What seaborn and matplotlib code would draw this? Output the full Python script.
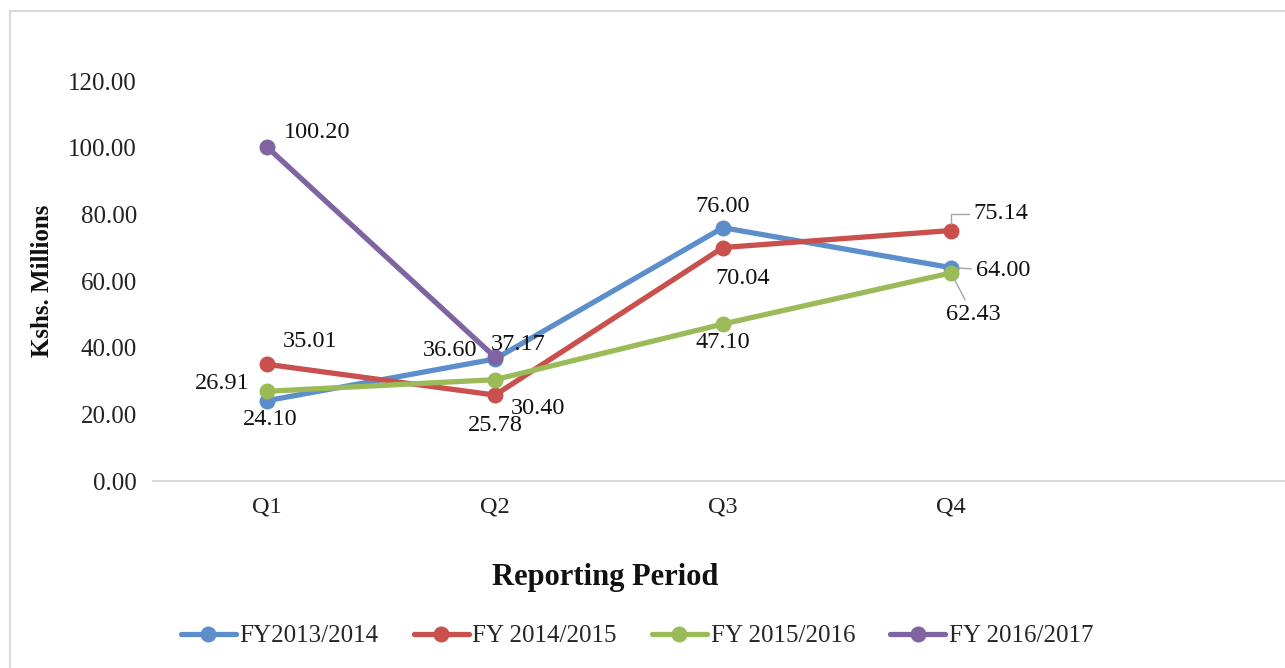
import matplotlib
matplotlib.use("Agg")
import matplotlib.pyplot as plt
import seaborn as sns
import pandas as pd
import numpy as np
from matplotlib.patches import Rectangle

quarters = ["Q1", "Q2", "Q3", "Q4"]
series_names = ["FY2013/2014", "FY 2014/2015", "FY 2015/2016", "FY 2016/2017"]
fy2013 = [24.10, 36.60, 76.00, 64.00]
fy2014 = [35.01, 25.78, 70.04, 75.14]
fy2015 = [26.91, 30.40, 47.10, 62.43]
fy2016 = [100.20, 37.17, np.nan, np.nan]
yticks = [0, 20, 40, 60, 80, 100, 120]

colors = ["#5B8ECB", "#C9504D", "#9BBB59", "#8064A2"]

rows = []
for name, vals in zip(series_names, [fy2013, fy2014, fy2015, fy2016]):
    for q, v in zip(quarters, vals):
        if not np.isnan(v):
            rows.append({"Quarter": q, "Value": v, "Series": name})
df = pd.DataFrame(rows)

sns.set_theme(style="white")
plt.rcParams["font.family"] = ["Liberation Serif", "DejaVu Serif"]

FS = 17.5
fig = plt.figure(figsize=(12.85, 6.68), dpi=100)
W, H = 1285, 668
ax = fig.add_axes([153 / W, 1 - 481 / H, 1 - 153 / W, (481 - 81) / H])

sns.lineplot(data=df, x="Quarter", y="Value", hue="Series", hue_order=series_names,
             palette=colors, marker="o", markersize=11.5, linewidth=3.8,
             markeredgewidth=0, sort=False, ax=ax, legend=True)

ax.set_xlim(-0.5, (W - 153) / 228 - 0.5)
ax.set_ylim(0, 120)
ax.set_yticks(yticks)
ax.set_yticklabels([f"{t:.2f}" for t in yticks], fontsize=18, color="#222222")
ax.set_xticks(range(len(quarters)))
ax.set_xticklabels(quarters, fontsize=FS, color="#222222")
ax.tick_params(axis="both", length=0)
ax.tick_params(axis="y", pad=11.5)
ax.tick_params(axis="x", pad=11)
for s in ["top", "right", "left"]:
    ax.spines[s].set_visible(False)
ax.spines["bottom"].set_color("#D9D9D9")
ax.spines["bottom"].set_linewidth(1.5)
ax.grid(False)

ax.set_xlabel("Reporting Period", fontsize=22, fontweight="bold", color="#111111")
ax.xaxis.set_label_coords((605 - 153) / (W - 153), (481 - 577) / 400)
ax.xaxis.label.set_va("center")
ax.set_ylabel("Kshs. Millions", fontsize=18, fontweight="bold", color="#111111")
ax.yaxis.set_label_coords((43 - 153) / (W - 153), 0.5)
ax.yaxis.label.set_va("center")

# data labels: (dx, dy) offsets in pixels
offsets = {
    "FY2013/2014": [(3, -19), (-45, 8), (0, 21), (52, -3)],
    "FY 2014/2015": [(43, 23), (0, -30), (20, -31), (50, 17)],
    "FY 2015/2016": [(-45, 8), (43, -29), (0, -18), (22, -42)],
    "FY 2016/2017": [(50, 15), (23, 13), None, None],
}
leaders = {("FY2013/2014", 3): "arc3", ("FY 2014/2015", 3): "angle", ("FY 2015/2016", 3): "arc3"}
for name, vals in zip(series_names, [fy2013, fy2014, fy2015, fy2016]):
    for i, v in enumerate(vals):
        if np.isnan(v):
            continue
        dx, dy = offsets[name][i]
        kw = {}
        if (name, i) in leaders:
            style = leaders[(name, i)]
            cs = "angle,angleA=0,angleB=90,rad=0" if style == "angle" else "arc3"
            kw["arrowprops"] = dict(arrowstyle="-", color="#A6A6A6", lw=1.0,
                                    shrinkA=1, shrinkB=5, connectionstyle=cs)
        ax.annotate(f"{v:.2f}", xy=(i, v), xytext=(dx, dy), textcoords="offset pixels",
                    ha="center", va="center", fontsize=FS, color="#111111", **kw)

handles, labels = ax.get_legend_handles_labels()
ax.get_legend().remove()
fig.legend(handles, labels, loc="center", bbox_to_anchor=(637 / W, 1 - 636 / H), ncol=4,
           frameon=False, fontsize=18, handlelength=2.2, columnspacing=1.4, handletextpad=0.15)

fig.patches.append(Rectangle((10 / W, -0.1), 1.2, 1 - 11 / H + 0.1, transform=fig.transFigure,
                             fill=False, edgecolor="#D9D9D9", linewidth=1.5))

fig.savefig("out.png", dpi=100)
